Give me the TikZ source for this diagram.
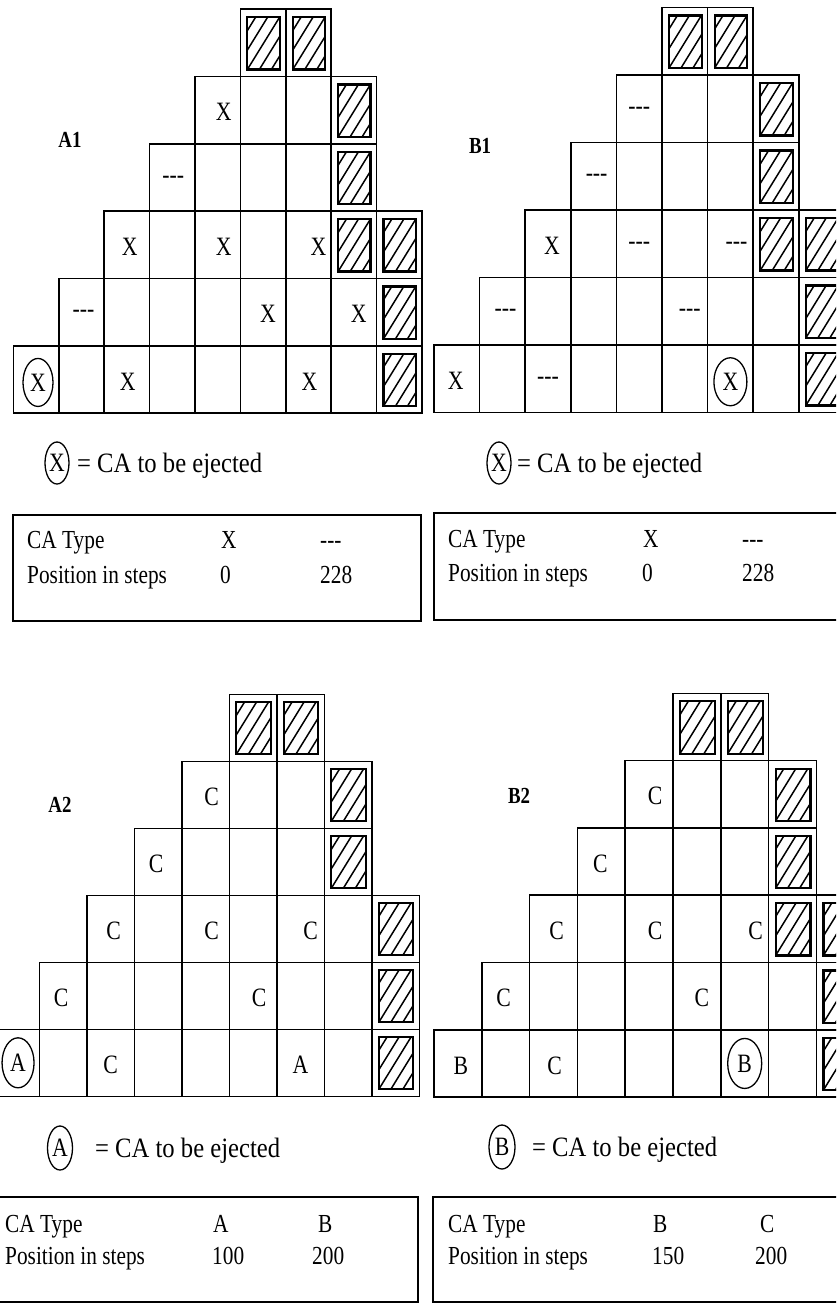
\documentclass[tikz,border=0pt]{standalone}
\usepackage{fontspec}
\setmainfont{Liberation Serif}[FakeStretch=0.82]
\newfontfamily\legfam{Liberation Serif}[FakeStretch=0.88]
\usetikzlibrary{calc,shapes.geometric}
\newcommand{\cellfont}{\fontsize{26.5}{30}\selectfont}
\newcommand{\labfont}{\fontsize{23}{27}\selectfont\bfseries}
\newcommand{\legfont}{\legfam\fontsize{28}{33}\selectfont}
\newcommand{\tabfont}{\fontsize{26}{30}\selectfont}
\newcommand{\dd}{\mbox{-}\mbox{-}\mbox{-}}
% panel grid: #1 name, #2 x0, #3 y0, #4 cell width, #5 cell height
\newcommand{\panel}[5]{%
  \foreach \r/\cs/\ce in {0/5/6,1/4/7,2/3/7,3/2/8,4/1/8,5/0/8}{
    \foreach \c in {\cs,...,\ce}{
      \node[cellbox,minimum width=#4,minimum height=#5] (#1-\r-\c) at ({#2+\c*#4},{#3+\r*#5}) {};
    }
  }}
\newcommand{\hatch}[1]{%
  \draw[hbox] ($(#1.north west)+(7,8)$) rectangle ($(#1.south east)+(-6,-7)$);
  \begin{scope}
    \clip ($(#1.north west)+(7,8)$) rectangle ($(#1.south east)+(-6,-7)$);
    \foreach \k in {-2,...,2}
      \draw[hline] ($(#1.south west)+(7+\k*12,-7)$) -- ++(37,-60);
  \end{scope}}
\newcommand{\ctext}[5]{\node[ct] (t#1-#2-#3) at ($(#1-#2-#3.center)+(#4,2)$) {#5};}
\begin{document}
\begin{tikzpicture}[x=1pt,y=-1pt,
  cellbox/.style={draw,line width=1.6pt,inner sep=0pt,outer sep=0pt,anchor=north west},
  hbox/.style={line width=2.2pt},
  hline/.style={line width=1.5pt},
  ct/.style={font=\cellfont,inner sep=0pt},
  lab/.style={font=\labfont,inner sep=0pt},
  legt/.style={font=\legfont,inner sep=0pt,anchor=base west},
  tt/.style={font=\tabfont,inner sep=0pt,anchor=base west},
  circ/.style={ct,ellipse,draw,line width=1.3pt,inner sep=0pt},
  tabbox/.style={draw,line width=1.6pt}]
\clip (0,0) rectangle (836,1303);
\fill[white] (0,0) rectangle (836,1303);

% ---------------- A1 ----------------
\panel{A1}{13.3}{9.3}{45.4}{67.3}
\foreach \n in {0-5,0-6,1-7,2-7,3-7,3-8,4-8,5-8}{\hatch{A1-\n}}
\ctext{A1}{1}{4}{6}{X}
\ctext{A1}{2}{3}{1}{\dd}
\ctext{A1}{3}{2}{3}{X}
\ctext{A1}{3}{4}{6}{X}
\ctext{A1}{3}{6}{10}{X}
\ctext{A1}{4}{1}{2}{\dd}
\ctext{A1}{4}{5}{5}{X}
\ctext{A1}{4}{7}{5}{X}
\ctext{A1}{5}{2}{1}{X}
\ctext{A1}{5}{6}{1}{X}
\node[circ,minimum width=30,minimum height=48] (A1-e) at ($(A1-5-0.center)+(2,3)$) {X};
\node[lab] (A1-lab) at (70,140) {A1};
\node[circ,minimum width=24,minimum height=42] (A1-lc) at (57,463) {X};
\node[legt] (A1-lt) at ($(A1-lc.center)+(20,9)$) {= CA to be ejected};
\draw[tabbox] (13,515) rectangle (421,621);
\node[tt] (A1-t1) at (27,548) {CA Type};
\node[tt] (A1-t2) at (27,583) {Position in steps};
\node[tt] (A1-t3) at (221,548) {X};
\node[tt] (A1-t4) at (320,548) {\dd};
\node[tt] (A1-t5) at (220,583) {0};
\node[tt] (A1-t6) at (320,583) {228};

% ---------------- B1 ----------------
\panel{B1}{434}{7.5}{45.6}{67.5}
\foreach \n in {0-5,0-6,1-7,2-7,3-7,3-8,4-8,5-8}{\hatch{B1-\n}}
\ctext{B1}{1}{4}{0}{\dd}
\ctext{B1}{2}{3}{3}{\dd}
\ctext{B1}{3}{2}{4}{X}
\ctext{B1}{3}{4}{0}{\dd}
\ctext{B1}{3}{6}{6}{\dd}
\ctext{B1}{4}{1}{3}{\dd}
\ctext{B1}{4}{5}{5}{\dd}
\ctext{B1}{5}{0}{-1}{X}
\ctext{B1}{5}{2}{0}{\dd}
\node[circ,minimum width=33,minimum height=48] (B1-e) at ($(B1-5-6.center)+(0,3)$) {X};
\node[lab] (B1-lab) at (480,146) {B1};
\node[circ,minimum width=24,minimum height=42] (B1-lc) at (499,463) {X};
\node[legt] (B1-lt) at ($(B1-lc.center)+(18,9)$) {= CA to be ejected};
\draw[tabbox] (434,513) rectangle (850,620);
\node[tt] (B1-t1) at (448,547) {CA Type};
\node[tt] (B1-t2) at (448,581) {Position in steps};
\node[tt] (B1-t3) at (643,547) {X};
\node[tt] (B1-t4) at (742,547) {\dd};
\node[tt] (B1-t5) at (642,581) {0};
\node[tt] (B1-t6) at (742,581) {228};

% ---------------- A2 ----------------
\panel{A2}{-8.2}{694.3}{47.5}{67}
\foreach \n in {0-5,0-6,1-7,2-7,3-8,4-8,5-8}{\hatch{A2-\n}}
\ctext{A2}{1}{4}{6}{C}
\ctext{A2}{2}{3}{-2}{C}
\ctext{A2}{3}{2}{3}{C}
\ctext{A2}{3}{4}{6}{C}
\ctext{A2}{3}{6}{10}{C}
\ctext{A2}{4}{1}{-2}{C}
\ctext{A2}{4}{5}{6}{C}
\ctext{A2}{5}{2}{0}{C}
\ctext{A2}{5}{6}{0}{A}
\node[circ,minimum width=32,minimum height=50] (A2-e) at ($(A2-5-0.center)+(2.5,0)$) {A};
\node[lab] (A2-lab) at (60,805) {A2};
\node[circ,minimum width=25,minimum height=44] (A2-lc) at (60,1148) {A};
\node[legt] (A2-lt) at ($(A2-lc.center)+(35,9)$) {= CA to be ejected};
\draw[tabbox] (-9,1197) rectangle (418,1302);
\node[tt] (A2-t1) at (5,1232) {CA Type};
\node[tt] (A2-t2) at (5,1264) {Position in steps};
\node[tt] (A2-t3) at (213,1232) {A};
\node[tt] (A2-t4) at (318,1232) {B};
\node[tt] (A2-t5) at (212,1264) {100};
\node[tt] (A2-t6) at (312,1264) {200};

% ---------------- B2 ----------------
\panel{B2}{434}{693.3}{47.8}{67.3}
\foreach \n in {0-5,0-6,1-7,2-7,3-7,3-8,4-8,5-8}{\hatch{B2-\n}}
\ctext{B2}{1}{4}{6}{C}
\ctext{B2}{2}{3}{-1}{C}
\ctext{B2}{3}{2}{3}{C}
\ctext{B2}{3}{4}{6}{C}
\ctext{B2}{3}{6}{11}{C}
\ctext{B2}{4}{1}{-2}{C}
\ctext{B2}{4}{5}{5}{C}
\ctext{B2}{5}{0}{3}{B}
\ctext{B2}{5}{2}{1}{C}
\node[circ,minimum width=34,minimum height=50] (B2-e) at ($(B2-5-6.center)+(0,0)$) {B};
\node[lab] (B2-lab) at (519,796) {B2};
\node[circ,minimum width=26,minimum height=44] (B2-lc) at (502,1147) {B};
\node[legt] (B2-lt) at ($(B2-lc.center)+(30,9)$) {= CA to be ejected};
\draw[tabbox] (433,1197) rectangle (850,1302);
\node[tt] (B2-t1) at (448,1232) {CA Type};
\node[tt] (B2-t2) at (448,1264) {Position in steps};
\node[tt] (B2-t3) at (653,1232) {B};
\node[tt] (B2-t4) at (760,1232) {C};
\node[tt] (B2-t5) at (652,1264) {150};
\node[tt] (B2-t6) at (755,1264) {200};
\end{tikzpicture}
\end{document}
